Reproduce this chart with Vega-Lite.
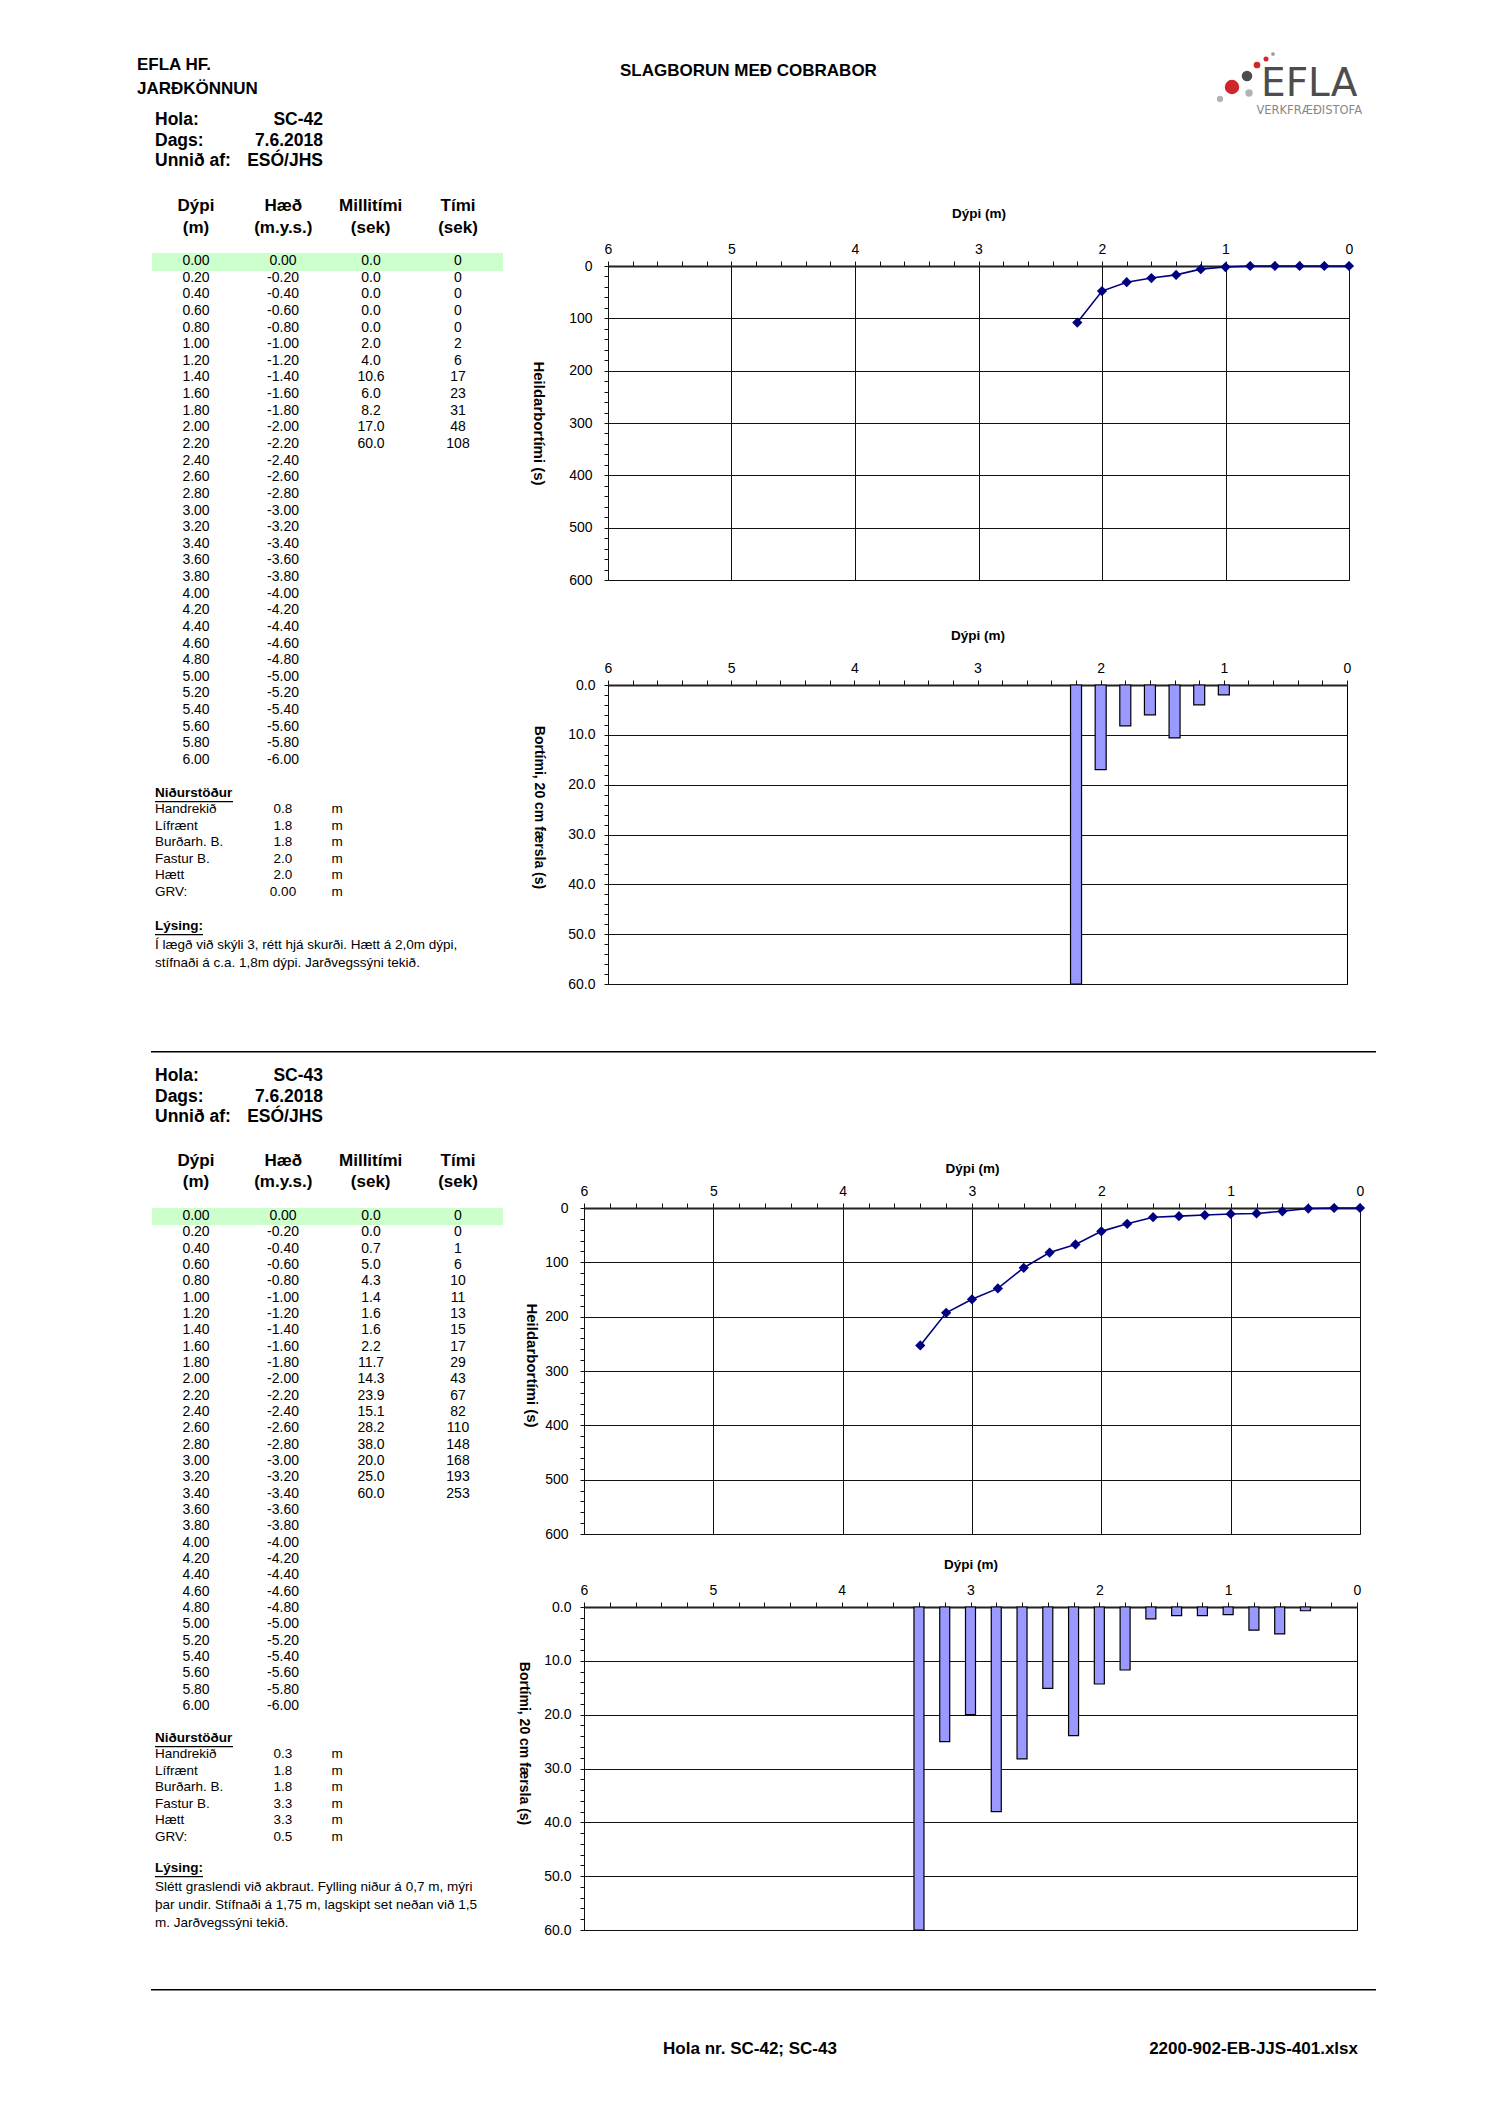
{
  "$schema": "https://vega.github.io/schema/vega-lite/v6.json",
  "padding": 0,
  "background": "white",
  "config": {
    "view": {"stroke": null},
    "font": "Liberation Sans",
    "text": {"font": "Liberation Sans", "color": "#000"},
    "axis": {"labelFont": "Liberation Sans", "titleFont": "Liberation Sans", "labelColor": "#000", "titleColor": "#000", "labelFlush": false, "labelOverlap": false, "labelFontSize": 14},
    "locale": {"number": {"decimal": ".", "thousands": ",", "grouping": [3], "currency": ["", ""], "minus": "-"}}
  },
  "datasets": {
    "sc42": [
      {"d": 0, "h": 0, "m": 0, "t": 0}, {"d": 0.2, "h": -0.2, "m": 0, "t": 0}, {"d": 0.4, "h": -0.4, "m": 0, "t": 0},
      {"d": 0.6, "h": -0.6, "m": 0, "t": 0}, {"d": 0.8, "h": -0.8, "m": 0, "t": 0}, {"d": 1, "h": -1, "m": 2, "t": 2},
      {"d": 1.2, "h": -1.2, "m": 4, "t": 6}, {"d": 1.4, "h": -1.4, "m": 10.6, "t": 17}, {"d": 1.6, "h": -1.6, "m": 6, "t": 23},
      {"d": 1.8, "h": -1.8, "m": 8.2, "t": 31}, {"d": 2, "h": -2, "m": 17, "t": 48}, {"d": 2.2, "h": -2.2, "m": 60, "t": 108},
      {"d": 2.4, "h": -2.4}, {"d": 2.6, "h": -2.6}, {"d": 2.8, "h": -2.8}, {"d": 3, "h": -3}, {"d": 3.2, "h": -3.2},
      {"d": 3.4, "h": -3.4}, {"d": 3.6, "h": -3.6}, {"d": 3.8, "h": -3.8}, {"d": 4, "h": -4}, {"d": 4.2, "h": -4.2},
      {"d": 4.4, "h": -4.4}, {"d": 4.6, "h": -4.6}, {"d": 4.8, "h": -4.8}, {"d": 5, "h": -5}, {"d": 5.2, "h": -5.2},
      {"d": 5.4, "h": -5.4}, {"d": 5.6, "h": -5.6}, {"d": 5.8, "h": -5.8}, {"d": 6, "h": -6}
    ],
    "sc43": [
      {"d": 0, "h": 0, "m": 0, "t": 0}, {"d": 0.2, "h": -0.2, "m": 0, "t": 0}, {"d": 0.4, "h": -0.4, "m": 0.7, "t": 1},
      {"d": 0.6, "h": -0.6, "m": 5, "t": 6}, {"d": 0.8, "h": -0.8, "m": 4.3, "t": 10}, {"d": 1, "h": -1, "m": 1.4, "t": 11},
      {"d": 1.2, "h": -1.2, "m": 1.6, "t": 13}, {"d": 1.4, "h": -1.4, "m": 1.6, "t": 15}, {"d": 1.6, "h": -1.6, "m": 2.2, "t": 17},
      {"d": 1.8, "h": -1.8, "m": 11.7, "t": 29}, {"d": 2, "h": -2, "m": 14.3, "t": 43}, {"d": 2.2, "h": -2.2, "m": 23.9, "t": 67},
      {"d": 2.4, "h": -2.4, "m": 15.1, "t": 82}, {"d": 2.6, "h": -2.6, "m": 28.2, "t": 110}, {"d": 2.8, "h": -2.8, "m": 38, "t": 148},
      {"d": 3, "h": -3, "m": 20, "t": 168}, {"d": 3.2, "h": -3.2, "m": 25, "t": 193}, {"d": 3.4, "h": -3.4, "m": 60, "t": 253},
      {"d": 3.6, "h": -3.6}, {"d": 3.8, "h": -3.8}, {"d": 4, "h": -4}, {"d": 4.2, "h": -4.2},
      {"d": 4.4, "h": -4.4}, {"d": 4.6, "h": -4.6}, {"d": 4.8, "h": -4.8}, {"d": 5, "h": -5}, {"d": 5.2, "h": -5.2},
      {"d": 5.4, "h": -5.4}, {"d": 5.6, "h": -5.6}, {"d": 5.8, "h": -5.8}, {"d": 6, "h": -6}
    ],
    "info42": [{"k": "Hola:", "v": "SC-42"}, {"k": "Dags:", "v": "7.6.2018"}, {"k": "Unnið af:", "v": "ESÓ/JHS"}],
    "info43": [{"k": "Hola:", "v": "SC-43"}, {"k": "Dags:", "v": "7.6.2018"}, {"k": "Unnið af:", "v": "ESÓ/JHS"}],
    "hdr": [{"c": "Dýpi", "u": "(m)"}, {"c": "Hæð", "u": "(m.y.s.)"}, {"c": "Millitími", "u": "(sek)"}, {"c": "Tími", "u": "(sek)"}],
    "res42": [{"k": "Handrekið", "v": "0.8"}, {"k": "Lífrænt", "v": "1.8"}, {"k": "Burðarh. B.", "v": "1.8"}, {"k": "Fastur B.", "v": "2.0"}, {"k": "Hætt", "v": "2.0"}, {"k": "GRV:", "v": "0.00"}],
    "res43": [{"k": "Handrekið", "v": "0.3"}, {"k": "Lífrænt", "v": "1.8"}, {"k": "Burðarh. B.", "v": "1.8"}, {"k": "Fastur B.", "v": "3.3"}, {"k": "Hætt", "v": "3.3"}, {"k": "GRV:", "v": "0.5"}]
  },
  "spacing": 0,
  "bounds": "full",
  "vconcat": [
    {
      "spacing": 0,
      "bounds": "flush",
      "hconcat": [
        {
          "width": 608,
          "height": 1051,
          "data": {"values": [{}]},
          "resolve": {"scale": {"x": "independent", "y": "independent"}},
          "layer": [
            {"mark": {"type": "rect", "x": 0, "x2": 1, "y": 0, "y2": 1051, "color": "white", "opacity": 1}},
            {"mark": {"type": "text", "text": "EFLA HF.", "x": 137, "y": 65, "align": "left", "baseline": "middle", "fontSize": 17, "fontWeight": "bold"}},
            {"mark": {"type": "text", "text": "JARÐKÖNNUN", "x": 137, "y": 89, "align": "left", "baseline": "middle", "fontSize": 17, "fontWeight": "bold"}},
            {"mark": {"type": "text", "text": "SLAGBORUN MEÐ COBRABOR", "x": 620, "y": 71, "align": "left", "baseline": "middle", "fontSize": 17, "fontWeight": "bold"}},
            {"mark": {"type": "text", "text": "EFLA", "x": 1261, "y": 84, "align": "left", "baseline": "middle", "fontSize": 39, "font": "DejaVu Sans", "color": "#4d4d4d"}},
            {"mark": {"type": "text", "text": "VERKFRÆÐISTOFA", "x": 1362, "y": 111, "align": "right", "baseline": "middle", "fontSize": 11.5, "font": "DejaVu Sans", "color": "#888888"}},
            {"mark": {"type": "circle", "x": 1232, "y": 87, "size": 210, "color": "#d0262b", "opacity": 1}},
            {"mark": {"type": "circle", "x": 1247, "y": 76, "size": 110, "color": "#4d4d4d", "opacity": 1}},
            {"mark": {"type": "circle", "x": 1249, "y": 93, "size": 55, "color": "#b3b3b3", "opacity": 1}},
            {"mark": {"type": "circle", "x": 1220, "y": 99, "size": 40, "color": "#b3b3b3", "opacity": 1}},
            {"mark": {"type": "circle", "x": 1257, "y": 65, "size": 45, "color": "#d0262b", "opacity": 1}},
            {"mark": {"type": "circle", "x": 1266, "y": 59, "size": 25, "color": "#d0262b", "opacity": 1}},
            {"mark": {"type": "circle", "x": 1273, "y": 54, "size": 14, "color": "#999999", "opacity": 1}},
            {
              "data": {"name": "info42"},
              "mark": {"type": "text", "x": 155, "align": "left", "baseline": "middle", "fontSize": 17.5, "fontWeight": "bold"},
              "encoding": {
                "y": {"field": "k", "type": "nominal", "scale": {"type": "point", "domain": ["Hola:", "Dags:", "Unnið af:"], "range": [120, 161], "padding": 0}, "axis": null},
                "text": {"field": "k"}
              }
            },
            {
              "data": {"name": "info42"},
              "mark": {"type": "text", "x": 323, "align": "right", "baseline": "middle", "fontSize": 17.5, "fontWeight": "bold"},
              "encoding": {
                "y": {"field": "k", "type": "nominal", "scale": {"type": "point", "domain": ["Hola:", "Dags:", "Unnið af:"], "range": [120, 161], "padding": 0}, "axis": null},
                "text": {"field": "v"}
              }
            },
            {
              "data": {"name": "hdr"},
              "mark": {"type": "text", "y": 206, "align": "center", "baseline": "middle", "fontSize": 17, "fontWeight": "bold"},
              "encoding": {
                "x": {"field": "c", "type": "nominal", "scale": {"type": "point", "domain": ["Dýpi", "Hæð", "Millitími", "Tími"], "range": [196, 458], "padding": 0}, "axis": null},
                "text": {"field": "c"}
              }
            },
            {
              "data": {"name": "hdr"},
              "mark": {"type": "text", "y": 228, "align": "center", "baseline": "middle", "fontSize": 17, "fontWeight": "bold"},
              "encoding": {
                "x": {"field": "c", "type": "nominal", "scale": {"type": "point", "domain": ["Dýpi", "Hæð", "Millitími", "Tími"], "range": [196, 458], "padding": 0}, "axis": null},
                "text": {"field": "u"}
              }
            },
            {"mark": {"type": "rect", "x": 152, "x2": 503, "y": 253, "y2": 271, "color": "#ccffcc", "opacity": 1}},
            {
              "data": {"name": "sc42"},
              "mark": {"type": "text", "x": 196, "align": "center", "baseline": "middle", "fontSize": 14},
              "encoding": {
                "y": {"field": "d", "type": "quantitative", "scale": {"domain": [0, 6], "range": [261, 760], "nice": false, "zero": false}, "axis": null},
                "text": {"field": "d", "type": "quantitative", "format": ".2f"}
              }
            },
            {
              "data": {"name": "sc42"},
              "mark": {"type": "text", "x": 283, "align": "center", "baseline": "middle", "fontSize": 14},
              "encoding": {
                "y": {"field": "d", "type": "quantitative", "scale": {"domain": [0, 6], "range": [261, 760], "nice": false, "zero": false}, "axis": null},
                "text": {"field": "h", "type": "quantitative", "format": ".2f"}
              }
            },
            {
              "data": {"name": "sc42"},
              "transform": [{"filter": "isValid(datum.m)"}],
              "mark": {"type": "text", "x": 371, "align": "center", "baseline": "middle", "fontSize": 14},
              "encoding": {
                "y": {"field": "d", "type": "quantitative", "scale": {"domain": [0, 6], "range": [261, 760], "nice": false, "zero": false}, "axis": null},
                "text": {"field": "m", "type": "quantitative", "format": ".1f"}
              }
            },
            {
              "data": {"name": "sc42"},
              "transform": [{"filter": "isValid(datum.t)"}],
              "mark": {"type": "text", "x": 458, "align": "center", "baseline": "middle", "fontSize": 14},
              "encoding": {
                "y": {"field": "d", "type": "quantitative", "scale": {"domain": [0, 6], "range": [261, 760], "nice": false, "zero": false}, "axis": null},
                "text": {"field": "t", "type": "quantitative", "format": "d"}
              }
            },
            {"mark": {"type": "text", "text": "Niðurstöður", "x": 155, "y": 793, "align": "left", "baseline": "middle", "fontSize": 13.5, "fontWeight": "bold"}},
            {"mark": {"type": "rect", "x": 155, "x2": 233, "y": 801, "y2": 802.3, "color": "#000", "opacity": 1}},
            {
              "data": {"name": "res42"},
              "mark": {"type": "text", "x": 155, "align": "left", "baseline": "middle", "fontSize": 13.5},
              "encoding": {
                "y": {"field": "k", "type": "nominal", "scale": {"type": "point", "domain": ["Handrekið", "Lífrænt", "Burðarh. B.", "Fastur B.", "Hætt", "GRV:"], "range": [809, 892], "padding": 0}, "axis": null},
                "text": {"field": "k"}
              }
            },
            {
              "data": {"name": "res42"},
              "mark": {"type": "text", "x": 283, "align": "center", "baseline": "middle", "fontSize": 13.5},
              "encoding": {
                "y": {"field": "k", "type": "nominal", "scale": {"type": "point", "domain": ["Handrekið", "Lífrænt", "Burðarh. B.", "Fastur B.", "Hætt", "GRV:"], "range": [809, 892], "padding": 0}, "axis": null},
                "text": {"field": "v"}
              }
            },
            {
              "data": {"name": "res42"},
              "mark": {"type": "text", "x": 337, "align": "center", "baseline": "middle", "fontSize": 13.5, "text": "m"},
              "encoding": {
                "y": {"field": "k", "type": "nominal", "scale": {"type": "point", "domain": ["Handrekið", "Lífrænt", "Burðarh. B.", "Fastur B.", "Hætt", "GRV:"], "range": [809, 892], "padding": 0}, "axis": null}
              }
            },
            {"mark": {"type": "text", "text": "Lýsing:", "x": 155, "y": 926, "align": "left", "baseline": "middle", "fontSize": 13.5, "fontWeight": "bold"}},
            {"mark": {"type": "rect", "x": 155, "x2": 203, "y": 934, "y2": 935.3, "color": "#000", "opacity": 1}},
            {"mark": {"type": "text", "text": ["Í lægð við skýli 3, rétt hjá skurði. Hætt á 2,0m dýpi,", "stífnaði á c.a. 1,8m dýpi. Jarðvegssýni tekið."], "x": 155, "y": 949, "lineHeight": 18, "align": "left", "baseline": "alphabetic", "fontSize": 13.5}}
          ]
        },
        {
          "spacing": 105,
          "bounds": "flush",
          "vconcat": [
            {"width": 741, "height": 161, "data": {"values": [{}]}, "mark": {"type": "circle", "size": 0, "opacity": 0}},
            {
              "width": 741,
              "height": 314,
              "data": {"name": "sc42"},
              "transform": [{"filter": "isValid(datum.t)"}],
              "view": {"stroke": "#808080"},
              "encoding": {
                "x": {
                  "field": "d", "type": "quantitative",
                  "scale": {"domain": [0, 6], "reverse": true, "nice": false, "zero": false},
                  "axis": {"orient": "top", "values": [0, 0.2, 0.4, 0.6, 0.8, 1, 1.2, 1.4, 1.6, 1.8, 2, 2.2, 2.4, 2.6, 2.8, 3, 3.2, 3.4, 3.6, 3.8, 4, 4.2, 4.4, 4.6, 4.8, 5, 5.2, 5.4, 5.6, 5.8, 6],
                    "labelExpr": "datum.value % 1 === 0 ? format(datum.value, 'd') : ''",
                    "grid": true, "gridColor": "#111", "gridOpacity": {"condition": {"test": "datum.value % 1 === 0", "value": 1}, "value": 0},
                    "tickSize": 5, "tickColor": "#111", "domainColor": "#222", "domainWidth": 2, "labelPadding": 5,
                    "title": "Dýpi (m)", "titleFontSize": 13.5, "titleFontWeight": "bold", "titlePadding": 22}
                },
                "y": {
                  "field": "t", "type": "quantitative",
                  "scale": {"domain": [0, 600], "reverse": true, "nice": false},
                  "axis": {"values": [0, 20, 40, 60, 80, 100, 120, 140, 160, 180, 200, 220, 240, 260, 280, 300, 320, 340, 360, 380, 400, 420, 440, 460, 480, 500, 520, 540, 560, 580, 600],
                    "labelExpr": "datum.value % 100 === 0 ? format(datum.value, 'd') : ''",
                    "grid": true, "gridColor": "#111", "gridOpacity": {"condition": {"test": "datum.value % 100 === 0", "value": 1}, "value": 0},
                    "tickSize": 4, "tickColor": "#111", "domainColor": "#111", "labelPadding": 12,
                    "title": "Heildarbortími (s)", "titleAngle": 90, "titleX": -70, "titleY": 157, "titleAlign": "center", "titleBaseline": "middle", "titleFontSize": 15, "titleFontWeight": "bold"}
                }
              },
              "layer": [
                {"mark": {"type": "line", "color": "#000080", "strokeWidth": 1.6}},
                {"mark": {"type": "point", "shape": "diamond", "filled": true, "color": "#000080", "size": 105, "opacity": 1}}
              ]
            },
            {
              "width": 739,
              "height": 299,
              "data": {"name": "sc42"},
              "transform": [{"filter": "isValid(datum.m) && datum.m > 0"}],
              "view": {"stroke": "#000"},
              "mark": {"type": "bar", "orient": "vertical", "width": 11, "fill": "#9999ff", "stroke": "#000", "strokeWidth": 1.2},
              "encoding": {
                "x": {
                  "field": "d", "type": "quantitative",
                  "scale": {"domain": [0, 6], "reverse": true, "nice": false, "zero": false, "padding": 0},
                  "axis": {"orient": "top", "values": [0, 0.2, 0.4, 0.6, 0.8, 1, 1.2, 1.4, 1.6, 1.8, 2, 2.2, 2.4, 2.6, 2.8, 3, 3.2, 3.4, 3.6, 3.8, 4, 4.2, 4.4, 4.6, 4.8, 5, 5.2, 5.4, 5.6, 5.8, 6],
                    "labelExpr": "datum.value % 1 === 0 ? format(datum.value, 'd') : ''",
                    "grid": false, "tickSize": 5, "tickColor": "#111", "domainColor": "#222", "domainWidth": 2, "labelPadding": 5,
                    "title": "Dýpi (m)", "titleFontSize": 13.5, "titleFontWeight": "bold", "titlePadding": 19}
                },
                "y": {
                  "field": "m", "type": "quantitative",
                  "scale": {"domain": [0, 60], "reverse": true, "nice": false},
                  "axis": {"values": [0, 2, 4, 6, 8, 10, 12, 14, 16, 18, 20, 22, 24, 26, 28, 30, 32, 34, 36, 38, 40, 42, 44, 46, 48, 50, 52, 54, 56, 58, 60],
                    "labelExpr": "datum.value % 10 === 0 ? format(datum.value, '.1f') : ''",
                    "grid": true, "gridColor": "#111", "gridOpacity": {"condition": {"test": "datum.value % 10 === 0", "value": 1}, "value": 0},
                    "tickSize": 4, "tickColor": "#111", "domainColor": "#111", "labelPadding": 9,
                    "title": "Bortími,  20 cm færsla (s)", "titleAngle": 90, "titleX": -70, "titleY": 122, "titleAlign": "center", "titleBaseline": "middle", "titleFontSize": 14, "titleFontWeight": "bold"}
                }
              }
            }
          ]
        }
      ]
    },
    {
      "spacing": 0,
      "bounds": "flush",
      "hconcat": [
        {
          "width": 584,
          "height": 1071,
          "data": {"values": [{}]},
          "resolve": {"scale": {"x": "independent", "y": "independent"}},
          "layer": [
            {"mark": {"type": "rect", "x": 0, "x2": 1, "y": 0, "y2": 1071, "color": "white", "opacity": 1}},
            {"mark": {"type": "rect", "x": 151, "x2": 1376, "y": 0, "y2": 1.6, "color": "#000", "opacity": 1}},
            {
              "data": {"name": "info43"},
              "mark": {"type": "text", "x": 155, "align": "left", "baseline": "middle", "fontSize": 17.5, "fontWeight": "bold"},
              "encoding": {
                "y": {"field": "k", "type": "nominal", "scale": {"type": "point", "domain": ["Hola:", "Dags:", "Unnið af:"], "range": [25, 66], "padding": 0}, "axis": null},
                "text": {"field": "k"}
              }
            },
            {
              "data": {"name": "info43"},
              "mark": {"type": "text", "x": 323, "align": "right", "baseline": "middle", "fontSize": 17.5, "fontWeight": "bold"},
              "encoding": {
                "y": {"field": "k", "type": "nominal", "scale": {"type": "point", "domain": ["Hola:", "Dags:", "Unnið af:"], "range": [25, 66], "padding": 0}, "axis": null},
                "text": {"field": "v"}
              }
            },
            {
              "data": {"name": "hdr"},
              "mark": {"type": "text", "y": 110, "align": "center", "baseline": "middle", "fontSize": 17, "fontWeight": "bold"},
              "encoding": {
                "x": {"field": "c", "type": "nominal", "scale": {"type": "point", "domain": ["Dýpi", "Hæð", "Millitími", "Tími"], "range": [196, 458], "padding": 0}, "axis": null},
                "text": {"field": "c"}
              }
            },
            {
              "data": {"name": "hdr"},
              "mark": {"type": "text", "y": 131, "align": "center", "baseline": "middle", "fontSize": 17, "fontWeight": "bold"},
              "encoding": {
                "x": {"field": "c", "type": "nominal", "scale": {"type": "point", "domain": ["Dýpi", "Hæð", "Millitími", "Tími"], "range": [196, 458], "padding": 0}, "axis": null},
                "text": {"field": "u"}
              }
            },
            {"mark": {"type": "rect", "x": 152, "x2": 503, "y": 157, "y2": 174, "color": "#ccffcc", "opacity": 1}},
            {
              "data": {"name": "sc43"},
              "mark": {"type": "text", "x": 196, "align": "center", "baseline": "middle", "fontSize": 14},
              "encoding": {
                "y": {"field": "d", "type": "quantitative", "scale": {"domain": [0, 6], "range": [165, 655], "nice": false, "zero": false}, "axis": null},
                "text": {"field": "d", "type": "quantitative", "format": ".2f"}
              }
            },
            {
              "data": {"name": "sc43"},
              "mark": {"type": "text", "x": 283, "align": "center", "baseline": "middle", "fontSize": 14},
              "encoding": {
                "y": {"field": "d", "type": "quantitative", "scale": {"domain": [0, 6], "range": [165, 655], "nice": false, "zero": false}, "axis": null},
                "text": {"field": "h", "type": "quantitative", "format": ".2f"}
              }
            },
            {
              "data": {"name": "sc43"},
              "transform": [{"filter": "isValid(datum.m)"}],
              "mark": {"type": "text", "x": 371, "align": "center", "baseline": "middle", "fontSize": 14},
              "encoding": {
                "y": {"field": "d", "type": "quantitative", "scale": {"domain": [0, 6], "range": [165, 655], "nice": false, "zero": false}, "axis": null},
                "text": {"field": "m", "type": "quantitative", "format": ".1f"}
              }
            },
            {
              "data": {"name": "sc43"},
              "transform": [{"filter": "isValid(datum.t)"}],
              "mark": {"type": "text", "x": 458, "align": "center", "baseline": "middle", "fontSize": 14},
              "encoding": {
                "y": {"field": "d", "type": "quantitative", "scale": {"domain": [0, 6], "range": [165, 655], "nice": false, "zero": false}, "axis": null},
                "text": {"field": "t", "type": "quantitative", "format": "d"}
              }
            },
            {"mark": {"type": "text", "text": "Niðurstöður", "x": 155, "y": 687, "align": "left", "baseline": "middle", "fontSize": 13.5, "fontWeight": "bold"}},
            {"mark": {"type": "rect", "x": 155, "x2": 233, "y": 695, "y2": 696.3, "color": "#000", "opacity": 1}},
            {
              "data": {"name": "res43"},
              "mark": {"type": "text", "x": 155, "align": "left", "baseline": "middle", "fontSize": 13.5},
              "encoding": {
                "y": {"field": "k", "type": "nominal", "scale": {"type": "point", "domain": ["Handrekið", "Lífrænt", "Burðarh. B.", "Fastur B.", "Hætt", "GRV:"], "range": [703, 786], "padding": 0}, "axis": null},
                "text": {"field": "k"}
              }
            },
            {
              "data": {"name": "res43"},
              "mark": {"type": "text", "x": 283, "align": "center", "baseline": "middle", "fontSize": 13.5},
              "encoding": {
                "y": {"field": "k", "type": "nominal", "scale": {"type": "point", "domain": ["Handrekið", "Lífrænt", "Burðarh. B.", "Fastur B.", "Hætt", "GRV:"], "range": [703, 786], "padding": 0}, "axis": null},
                "text": {"field": "v"}
              }
            },
            {
              "data": {"name": "res43"},
              "mark": {"type": "text", "x": 337, "align": "center", "baseline": "middle", "fontSize": 13.5, "text": "m"},
              "encoding": {
                "y": {"field": "k", "type": "nominal", "scale": {"type": "point", "domain": ["Handrekið", "Lífrænt", "Burðarh. B.", "Fastur B.", "Hætt", "GRV:"], "range": [703, 786], "padding": 0}, "axis": null}
              }
            },
            {"mark": {"type": "text", "text": "Lýsing:", "x": 155, "y": 817, "align": "left", "baseline": "middle", "fontSize": 13.5, "fontWeight": "bold"}},
            {"mark": {"type": "rect", "x": 155, "x2": 203, "y": 825, "y2": 826.3, "color": "#000", "opacity": 1}},
            {"mark": {"type": "text", "text": ["Slétt graslendi við akbraut. Fylling niður á 0,7 m, mýri", "þar undir. Stífnaði á 1,75 m, lagskipt set neðan við 1,5", "m. Jarðvegssýni tekið."], "x": 155, "y": 840, "lineHeight": 18, "align": "left", "baseline": "alphabetic", "fontSize": 13.5}},
            {"mark": {"type": "rect", "x": 151, "x2": 1376, "y": 938, "y2": 939.6, "color": "#000", "opacity": 1}},
            {"mark": {"type": "text", "text": "Hola nr. SC-42; SC-43", "x": 750, "y": 998, "align": "center", "baseline": "middle", "fontSize": 17, "fontWeight": "bold"}},
            {"mark": {"type": "text", "text": "2200-902-EB-JJS-401.xlsx", "x": 1358, "y": 998, "align": "right", "baseline": "middle", "fontSize": 17, "fontWeight": "bold"}}
          ]
        },
        {
          "spacing": 73,
          "bounds": "flush",
          "vconcat": [
            {"width": 776, "height": 84, "data": {"values": [{}]}, "mark": {"type": "circle", "size": 0, "opacity": 0}},
            {
              "width": 776,
              "height": 326,
              "data": {"name": "sc43"},
              "transform": [{"filter": "isValid(datum.t)"}],
              "view": {"stroke": "#808080"},
              "encoding": {
                "x": {
                  "field": "d", "type": "quantitative",
                  "scale": {"domain": [0, 6], "reverse": true, "nice": false, "zero": false},
                  "axis": {"orient": "top", "values": [0, 0.2, 0.4, 0.6, 0.8, 1, 1.2, 1.4, 1.6, 1.8, 2, 2.2, 2.4, 2.6, 2.8, 3, 3.2, 3.4, 3.6, 3.8, 4, 4.2, 4.4, 4.6, 4.8, 5, 5.2, 5.4, 5.6, 5.8, 6],
                    "labelExpr": "datum.value % 1 === 0 ? format(datum.value, 'd') : ''",
                    "grid": true, "gridColor": "#111", "gridOpacity": {"condition": {"test": "datum.value % 1 === 0", "value": 1}, "value": 0},
                    "tickSize": 5, "tickColor": "#111", "domainColor": "#222", "domainWidth": 2, "labelPadding": 5,
                    "title": "Dýpi (m)", "titleFontSize": 13.5, "titleFontWeight": "bold", "titlePadding": 9}
                },
                "y": {
                  "field": "t", "type": "quantitative",
                  "scale": {"domain": [0, 600], "reverse": true, "nice": false},
                  "axis": {"values": [0, 20, 40, 60, 80, 100, 120, 140, 160, 180, 200, 220, 240, 260, 280, 300, 320, 340, 360, 380, 400, 420, 440, 460, 480, 500, 520, 540, 560, 580, 600],
                    "labelExpr": "datum.value % 100 === 0 ? format(datum.value, 'd') : ''",
                    "grid": true, "gridColor": "#111", "gridOpacity": {"condition": {"test": "datum.value % 100 === 0", "value": 1}, "value": 0},
                    "tickSize": 4, "tickColor": "#111", "domainColor": "#111", "labelPadding": 12,
                    "title": "Heildarbortími (s)", "titleAngle": 90, "titleX": -53, "titleY": 157, "titleAlign": "center", "titleBaseline": "middle", "titleFontSize": 15, "titleFontWeight": "bold"}
                }
              },
              "layer": [
                {"mark": {"type": "line", "color": "#000080", "strokeWidth": 1.6}},
                {"mark": {"type": "point", "shape": "diamond", "filled": true, "color": "#000080", "size": 105, "opacity": 1}}
              ]
            },
            {
              "width": 773,
              "height": 323,
              "data": {"name": "sc43"},
              "transform": [{"filter": "isValid(datum.m) && datum.m > 0"}],
              "view": {"stroke": "#000"},
              "mark": {"type": "bar", "orient": "vertical", "width": 10, "fill": "#9999ff", "stroke": "#000", "strokeWidth": 1.2},
              "encoding": {
                "x": {
                  "field": "d", "type": "quantitative",
                  "scale": {"domain": [0, 6], "reverse": true, "nice": false, "zero": false, "padding": 0},
                  "axis": {"orient": "top", "values": [0, 0.2, 0.4, 0.6, 0.8, 1, 1.2, 1.4, 1.6, 1.8, 2, 2.2, 2.4, 2.6, 2.8, 3, 3.2, 3.4, 3.6, 3.8, 4, 4.2, 4.4, 4.6, 4.8, 5, 5.2, 5.4, 5.6, 5.8, 6],
                    "labelExpr": "datum.value % 1 === 0 ? format(datum.value, 'd') : ''",
                    "grid": false, "tickSize": 5, "tickColor": "#111", "domainColor": "#222", "domainWidth": 2, "labelPadding": 5,
                    "title": "Dýpi (m)", "titleFontSize": 13.5, "titleFontWeight": "bold", "titlePadding": 12}
                },
                "y": {
                  "field": "m", "type": "quantitative",
                  "scale": {"domain": [0, 60], "reverse": true, "nice": false},
                  "axis": {"values": [0, 2, 4, 6, 8, 10, 12, 14, 16, 18, 20, 22, 24, 26, 28, 30, 32, 34, 36, 38, 40, 42, 44, 46, 48, 50, 52, 54, 56, 58, 60],
                    "labelExpr": "datum.value % 10 === 0 ? format(datum.value, '.1f') : ''",
                    "grid": true, "gridColor": "#111", "gridOpacity": {"condition": {"test": "datum.value % 10 === 0", "value": 1}, "value": 0},
                    "tickSize": 4, "tickColor": "#111", "domainColor": "#111", "labelPadding": 9,
                    "title": "Bortími,  20 cm færsla (s)", "titleAngle": 90, "titleX": -61, "titleY": 136, "titleAlign": "center", "titleBaseline": "middle", "titleFontSize": 14, "titleFontWeight": "bold"}
                }
              }
            }
          ]
        }
      ]
    }
  ]
}
